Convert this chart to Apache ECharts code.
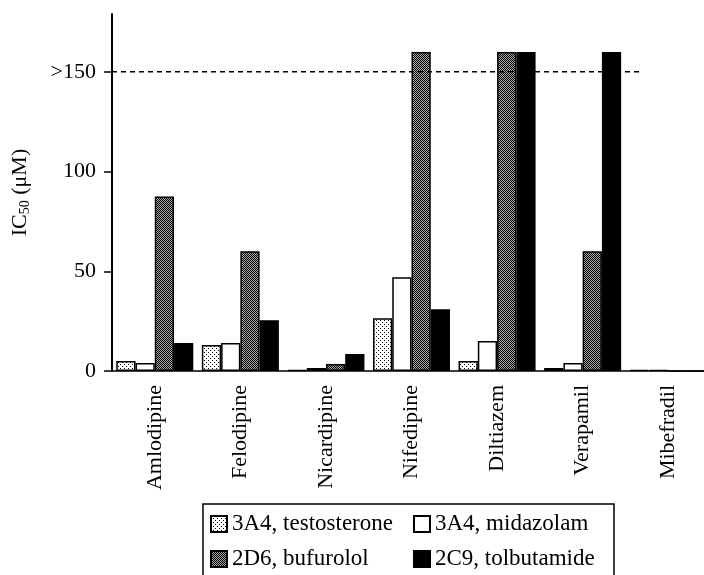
<!DOCTYPE html>
<html>
<head>
<meta charset="utf-8">
<style>html,body{margin:0;padding:0;background:#fff}#c{width:704px;height:575px}</style>
<script src="https://cdn.jsdelivr.net/npm/echarts@6/dist/echarts.min.js"></script>
</head>
<body>
<div id="c"></div>
<script>
// ---- data ----
var categories = ['Amlodipine','Felodipine','Nicardipine','Nifedipine','Diltiazem','Verapamil','Mibefradil'];
var seriesNames = ['3A4, testosterone','3A4, midazolam','2D6, bufurolol','2C9, tolbutamide'];
var testosterone3A4 = [5, 13, 0.5, 26.5, 5, 1.5, 0.5];
var midazolam3A4   = [4, 14, 1.5, 47, 15, 4, 0.5];
var bufurolol2D6   = [87.5, 60, 3.5, 160, 160, 60, 0];
var tolbutamide2C9 = [14, 25.5, 8.5, 31, 160, 160, 0];
var yTickValues = [0, 50, 100, 150];
var yTickLabels = ['0', '50', '100', '>150'];
var cutoffValue = 150;
var cutoffSpan = [0, 6.2];

// ---- patterns ----
function makePattern(w, h, bg, fg, pts) {
  var cv = document.createElement('canvas');
  cv.width = w; cv.height = h;
  var ctx = cv.getContext('2d');
  ctx.fillStyle = bg; ctx.fillRect(0, 0, w, h);
  ctx.fillStyle = fg;
  pts.forEach(function (p) { ctx.fillRect(p[0], p[1], 1, 1); });
  return { image: cv, repeat: 'repeat' };
}
var dotted = makePattern(4, 4, '#ffffff', '#000000', [[0,0],[2,2]]);
var checker = makePattern(2, 2, '#a8a8a8', '#000000', [[0,0],[1,1]]);

var font = 'Liberation Serif';
var fills = [dotted, '#ffffff', checker, '#000000'];
var values = [testosterone3A4, midazolam3A4, bufurolol2D6, tolbutamide2C9];

var series = values.map(function (v, i) {
  return {
    name: seriesNames[i],
    type: 'bar',
    data: v,
    barGap: '0%',
    barCategoryGap: '10%',
    itemStyle: { color: fills[i], borderColor: '#000', borderWidth: 1.5 },
    emphasis: { disabled: true },
    z: 2
  };
});
series.push({
  type: 'line',
  xAxisIndex: 1,
  yAxisIndex: 0,
  data: [[cutoffSpan[0], cutoffValue], [cutoffSpan[1], cutoffValue]],
  symbol: 'none',
  lineStyle: { color: '#000', width: 1.5, type: [5, 4] },
  silent: true,
  z: 5
});

var chart = echarts.init(document.getElementById('c'), null, { renderer: 'canvas' });
chart.setOption({
  animation: false,
  backgroundColor: '#fff',
  grid: { left: 112, top: 14, width: 599, bottom: 204, containLabel: false, outerBoundsMode: 'none' },
  legend: {
    data: seriesNames,
    left: 203,
    top: 504,
    width: 400,
    orient: 'horizontal',
    padding: [8, 9, 8, 7],
    itemGap: 11,
    itemWidth: 16,
    itemHeight: 16,
    icon: 'rect',
    borderColor: '#000',
    borderWidth: 1.5,
    borderRadius: 0,
    selectedMode: false,
    textStyle: { fontFamily: font, fontSize: 23, color: '#000', width: 170, lineHeight: 24 }
  },
  xAxis: [{
    type: 'category',
    data: categories,
    axisLine: { lineStyle: { color: '#000', width: 1.5 } },
    axisTick: { alignWithLabel: true, length: 9, lineStyle: { color: '#000', width: 1.5 } },
    axisLabel: { rotate: 90, interval: 0, margin: 14, fontFamily: font, fontSize: 22, color: '#000' }
  }, {
    type: 'value', min: 0, max: 7, show: false
  }],
  yAxis: {
    type: 'value',
    min: 0,
    max: 179,
    splitLine: { show: false },
    axisLine: { show: true, lineStyle: { color: '#000', width: 2 } },
    axisTick: { show: true, length: 8, customValues: yTickValues, lineStyle: { color: '#000', width: 1.5 } },
    axisLabel: {
      customValues: yTickValues,
      margin: 16,
      fontFamily: font, fontSize: 22, color: '#000',
      formatter: function (v) { var i = yTickValues.indexOf(v); return i >= 0 ? yTickLabels[i] : ''; }
    },
    name: 'IC{sub|50} (μM)',
    nameLocation: 'middle',
    nameGap: 80,
    nameTextStyle: {
      fontFamily: font, fontSize: 22, color: '#000',
      rich: {
        sub: { fontFamily: font, fontSize: 14, color: '#000', padding: [10, 0, 0, 0] }
      }
    }
  },
  series: series
});
</script>
</body>
</html>
